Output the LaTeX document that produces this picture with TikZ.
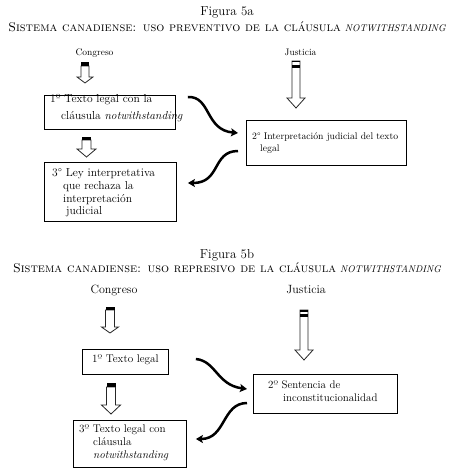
\documentclass[tikz,border=0pt]{standalone}
\usetikzlibrary{arrows.meta,calc}
\newcommand{\hollowarrow}[6]{\draw[shaft] (#1-#5,#2) -- (#1-#5,#3) -- (#1-#6,#3) -- (#1,#4) -- (#1+#6,#3) -- (#1+#5,#3) -- (#1+#5,#2) -- cycle;}
\newcommand{\arrowbar}[4]{\fill (#1-#2,#3) rectangle (#1+#2,#4);}
\begin{document}
\begin{tikzpicture}[x=1bp,y=-1bp,
  box/.style={draw, line width=0.9bp, inner sep=0, anchor=north west},
  btxt/.style={anchor=base west, inner sep=0, align=left, font=\fontsize{11.2}{13}\selectfont},
  title/.style={anchor=base, inner sep=0, font=\fontsize{13}{15}\selectfont},
  sub/.style={anchor=base, inner sep=0, font=\fontsize{12.7}{14}\selectfont},
  lab/.style={anchor=base, inner sep=0},
  curvy/.style={line width=2.5bp, -{Stealth[length=7bp,width=8bp,inset=1.5bp]}},
  shaft/.style={draw=black!85, line width=0.8bp, fill=white}]
\useasboundingbox (0,0) rectangle (453,475);

% ---------- Figura 5a ----------
\node[title] (t1) at (227,16) {Figura 5a};
\node[sub] (s1) at (227,31.5) {\textsc{Sistema canadiense: uso preventivo de la cláusula} {\itshape\fontsize{9.7}{10}\selectfont NOTWITHSTANDING}};
\node[lab, font=\fontsize{9.5}{11}\selectfont] (c1) at (94.5,56) {Congreso};
\node[lab, font=\fontsize{9.5}{11}\selectfont] (j1) at (300.5,56) {Justicia};

\hollowarrow{85}{66}{77}{83}{4}{8}
\arrowbar{85}{4}{62.5}{66}
\hollowarrow{296}{61}{98}{108}{4}{9}
\arrowbar{296}{4}{61}{62.3}
\arrowbar{296}{4}{65}{68}
\hollowarrow{86.5}{140}{149}{157}{4.5}{9.5}
\arrowbar{86.5}{4.5}{137}{140}

\node[box, minimum width=131bp, minimum height=34bp] (a1) at (44,95) {};
\node[box, minimum width=160bp, minimum height=45bp] (a2) at (246,120) {};
\node[box, minimum width=132bp, minimum height=59bp] (a3) at (44,162) {};

\node[btxt, font=\fontsize{11.6}{13}\selectfont] (a1t) at (50,120) {1º Texto legal con la\\[5pt]\hspace*{11bp}cláusula \textit{notwithstanding}};
\node[btxt, font=\fontsize{9.7}{13}\selectfont] (a2t) at (252,152) {2° Interpretación judicial del texto\\\hspace*{8bp}legal};
\node[btxt, font=\fontsize{11.6}{13}\selectfont] (a3t) at (52,215) {3° Ley interpretativa\\\hspace*{11bp}que rechaza la\\\hspace*{11bp}interpretación\\\hspace*{14bp}judicial};

\draw[curvy] ($(a1.north east)+(12,2)$) .. controls +(23,-1) and +(-33,-3) .. ($(a2.north west)+(-8,13)$);
\draw[curvy] ($(a2.north west)+(-8,31)$) .. controls +(-26,0) and +(33,0) .. ($(a3.north east)+(11,21)$);

% ---------- Figura 5b ----------
\node[title] (t2) at (227,258) {Figura 5b};
\node[sub] (s2) at (227,272) {\textsc{Sistema canadiense: uso represivo de la cláusula} {\itshape\fontsize{9.7}{10}\selectfont NOTWITHSTANDING}};
\node[lab, font=\fontsize{12}{14}\selectfont] (c2) at (114,293) {Congreso};
\node[lab, font=\fontsize{12}{14}\selectfont] (j2) at (306,293) {Justicia};

\hollowarrow{110}{310}{327}{333}{4.5}{8.5}
\arrowbar{110}{4.5}{306.5}{310}
\hollowarrow{304}{310}{350}{360}{4}{9}
\arrowbar{304}{4}{310}{311.5}
\arrowbar{304}{4}{314}{317}
\hollowarrow{111}{387}{405}{414}{4.5}{9.5}
\arrowbar{111}{4.5}{383}{387}

\node[box, minimum width=86bp, minimum height=25bp] (b1) at (82,349) {};
\node[box, minimum width=144bp, minimum height=39bp] (b2) at (253,374) {};
\node[box, minimum width=113bp, minimum height=47bp] (b3) at (73,420) {};

\node[btxt] (b1t) at (92,362) {1º Texto legal};
\node[btxt, font=\fontsize{11}{13}\selectfont] (b2t) at (268,401) {2º Sentencia de\\\hspace*{15bp}inconstitucionalidad};
\node[btxt] (b3t) at (79,458) {3º Texto legal con\\\hspace*{14bp}cláusula\\\hspace*{14bp}\textit{notwithstanding}};

\draw[curvy] ($(b1.north east)+(27,10)$) .. controls +(20,2) and +(-30,-4) .. ($(b2.north west)+(-6,15)$);
\draw[curvy] ($(b2.north west)+(-6,29)$) .. controls +(-25,0) and +(30,0) .. ($(b3.north east)+(9,19)$);
\end{tikzpicture}
\end{document}
